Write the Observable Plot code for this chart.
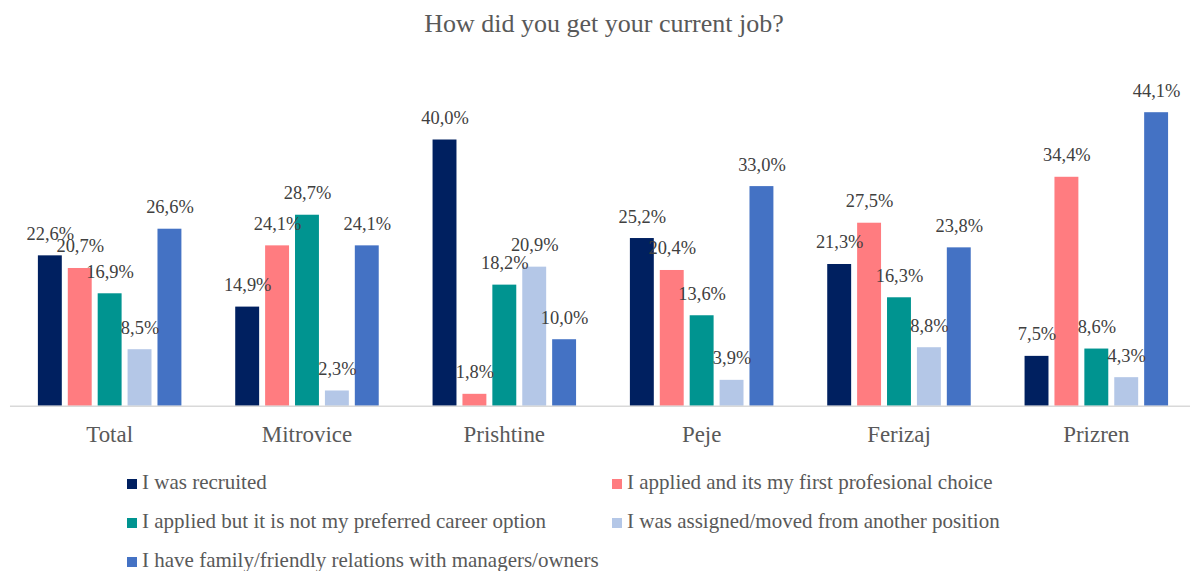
<!DOCTYPE html>
<html>
<head>
<meta charset="utf-8">
<script src="https://cdn.jsdelivr.net/npm/d3@7"></script>
<script src="https://cdn.jsdelivr.net/npm/@observablehq/plot@0.6"></script>
<style>
  html, body { margin: 0; padding: 0; background: #fff; overflow: hidden; }
  body { width: 1194px; height: 571px; position: relative; overflow: hidden; font-family: "Liberation Serif", "Times New Roman", serif; color: #595959; }
  #title { position: absolute; left: 10px; width: 1188px; top: 11px; text-align: center; font-size: 26px; line-height: 26px; white-space: nowrap; }
  #chart { position: absolute; left: 0; top: 50px; width: 1194px; overflow: hidden; }
  .leg { position: absolute; font-size: 21px; line-height: 21px; white-space: nowrap; }
  .sw { position: absolute; width: 10px; height: 10px; }
</style>
</head>
<body>
<div id="title"></div>
<div id="chart"></div>
<div id="legend"></div>
<script>
const title = "How did you get your current job?";
const categories = ["Total", "Mitrovice", "Prishtine", "Peje", "Ferizaj", "Prizren"];
const series = [
  "I was recruited",
  "I applied and its my first profesional choice",
  "I applied but it is not my preferred career option",
  "I was assigned/moved from another position",
  "I have family/friendly relations with managers/owners"
];
const colors = ["#002060", "#FF7C80", "#009490", "#B4C7E7", "#4472C4"];
const recruited = [22.6, 14.9, 40.0, 25.2, 21.3, 7.5];
const firstChoice = [20.7, 24.1, 1.8, 20.4, 27.5, 34.4];
const notPreferred = [16.9, 28.7, 18.2, 13.6, 16.3, 8.6];
const assigned = [8.5, 2.3, 20.9, 3.9, 8.8, 4.3];
const family = [26.6, 24.1, 10.0, 33.0, 23.8, 44.1];

const seriesValues = [recruited, firstChoice, notPreferred, assigned, family];
const data = [];
categories.forEach((c, i) => {
  series.forEach((s, j) => {
    data.push({category: c, series: s, value: seriesValues[j][i]});
  });
});
const fmt = v => v.toFixed(1).replace(".", ",") + "%";

document.getElementById("title").textContent = title;

const chart = Plot.plot({
  width: 1198,
  height: 400,
  marginLeft: 10,
  marginRight: 0,
  marginTop: 23,
  marginBottom: 43,
  style: {fontFamily: "'Liberation Serif', 'Times New Roman', serif", color: "#595959", background: "transparent"},
  fx: {domain: categories, paddingInner: 0.268, paddingOuter: 0.134, label: null},
  x: {domain: series, paddingInner: 0.2, paddingOuter: 0, axis: null},
  y: {domain: [0, 50], axis: null},
  color: {domain: series, range: colors},
  marks: [
    Plot.barY(data, {fx: "category", x: "series", y: "value", fill: "series"}),
    Plot.text(data, {fx: "category", x: "series", y: "value", text: d => fmt(d.value), dy: -22, fontSize: 18.5, fill: "#404040"}),
    Plot.axisFx({anchor: "bottom", tickSize: 0, tickPadding: 19, fontSize: 23, fill: "#595959", label: null})
  ]
});
document.getElementById("chart").appendChild(chart);

// baseline across whole plot area
const y0 = chart.scale("y").apply(0);
d3.select(chart).append("line")
  .attr("x1", 10).attr("x2", 1194)
  .attr("y1", y0 + 0.5).attr("y2", y0 + 0.5)
  .attr("stroke", "#D9D9D9").attr("stroke-width", 1.5);

// legend
const legend = document.getElementById("legend");
const pos = [
  {sx: 127, tx: 142, base: 490},
  {sx: 612, tx: 627, base: 490},
  {sx: 127, tx: 142, base: 529},
  {sx: 612, tx: 627, base: 529},
  {sx: 127, tx: 142, base: 568}
];
series.forEach((s, j) => {
  const p = pos[j];
  const sw = document.createElement("div");
  sw.className = "sw";
  sw.style.left = p.sx + "px";
  sw.style.top = (p.base - 11) + "px";
  sw.style.background = colors[j];
  legend.appendChild(sw);
  const t = document.createElement("div");
  t.className = "leg";
  t.style.left = p.tx + "px";
  t.style.top = (p.base - 17.6) + "px";
  t.textContent = s;
  legend.appendChild(t);
});
</script>
</body>
</html>
